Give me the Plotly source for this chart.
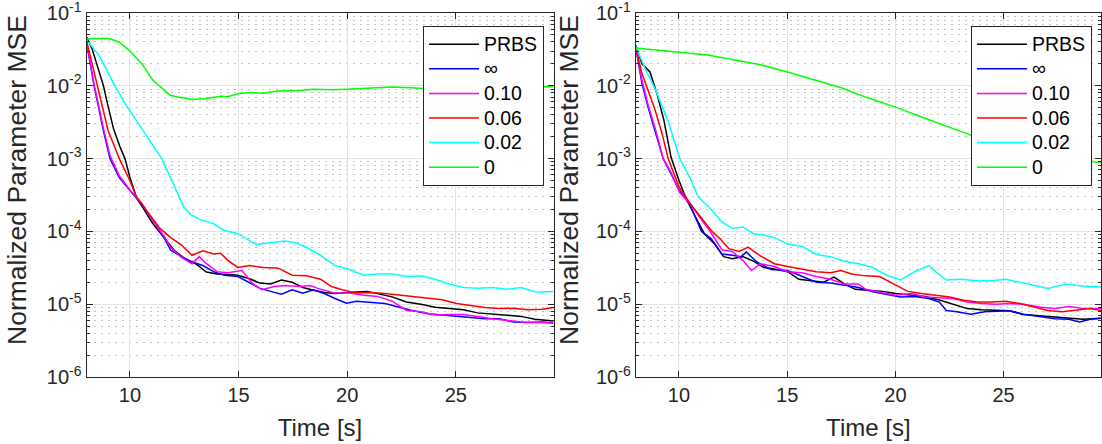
import plotly.graph_objects as go

# ---------------- data ----------------
SERIES = ["PRBS", "∞", "0.10", "0.06", "0.02", "0"]
X_TICKS = [10, 15, 20, 25]
Y_TICKS = [1e-6, 1e-5, 1e-4, 1e-3, 1e-2, 1e-1]
Y_TICK_TEXT = ["10<sup>-6</sup>", "10<sup>-5</sup>", "10<sup>-4</sup>",
               "10<sup>-3</sup>", "10<sup>-2</sup>", "10<sup>-1</sup>"]
X_TITLE = "Time [s]"
Y_TITLE = "Normalized Parameter MSE"

# ----- left panel -----
L_PRBS_T = [8.0, 8.26, 8.47, 8.78, 8.97, 9.24, 9.54, 9.77, 10.0, 10.3, 10.6, 11.05, 11.55, 12.04, 12.53, 13.03,
            13.52, 14.01, 14.5, 14.97, 15.5, 15.99, 16.48, 16.97, 17.47, 17.96, 18.45, 18.95, 19.44, 19.97, 20.43,
            20.92, 21.41, 22.07, 22.73, 23.39, 24.05, 24.7, 25.36, 26.0, 26.68, 27.34, 28.0, 28.65, 29.5]
L_PRBS_V = [4.7e-2, 3.2e-2, 2.0e-2, 1.0e-2, 5.6e-3, 2.6e-3, 1.45e-3, 1.0e-3, 5.5e-4, 2.9e-4, 2.1e-4, 1.28e-4, 8.4e-5,
            5.5e-5, 4.2e-5, 3.6e-5, 2.77e-5, 2.6e-5, 2.55e-5, 2.5e-5, 2.24e-5, 1.95e-5, 1.9e-5, 2.15e-5, 2.0e-5,
            1.7e-5, 1.55e-5, 1.45e-5, 1.4e-5, 1.42e-5, 1.47e-5, 1.5e-5, 1.4e-5, 1.26e-5, 1.07e-5, 1.0e-5, 9.1e-6,
            8.7e-6, 8.4e-6, 7.6e-6, 7.3e-6, 7.1e-6, 6.8e-6, 6.2e-6, 5.9e-6]

L_INF_T = [8.0, 8.35, 8.78, 9.08, 9.51, 10.0, 10.56, 11.05, 11.55, 11.88, 12.37, 12.86, 13.36, 13.85, 14.34, 14.97,
           15.5, 15.99, 16.48, 16.97, 17.47, 17.96, 18.45, 18.95, 19.44, 19.97, 20.43, 21.09, 21.74, 22.4, 23.06,
           23.72, 24.38, 25.03, 25.69, 26.35, 27.0, 27.66, 28.32, 28.98, 29.5]
L_INF_V = [4.0e-2, 1.0e-2, 2.4e-3, 1.0e-3, 5.5e-4, 3.6e-4, 2.3e-4, 1.4e-4, 8.4e-5, 5.5e-5, 4.5e-5, 3.8e-5, 3.4e-5,
           2.8e-5, 2.5e-5, 2.4e-5, 1.95e-5, 1.65e-5, 1.5e-5, 1.37e-5, 1.58e-5, 1.42e-5, 1.58e-5, 1.4e-5, 1.2e-5,
           1.03e-5, 1.1e-5, 1.07e-5, 1.02e-5, 9.1e-6, 8.1e-6, 7.4e-6, 7.1e-6, 6.9e-6, 6.6e-6, 6.3e-6, 6.3e-6,
           5.7e-6, 5.6e-6, 5.7e-6, 5.5e-6]

L_010_T = [8.0, 8.35, 8.78, 9.08, 9.51, 10.0, 10.56, 11.05, 11.55, 11.88, 12.37, 12.86, 13.19, 13.52, 14.01, 14.5,
           15.16, 15.66, 16.07, 16.64, 17.14, 17.8, 18.29, 18.78, 19.44, 20.1, 20.76, 21.41, 22.07, 22.73, 23.39,
           24.05, 24.7, 25.36, 26.0, 26.68, 27.34, 28.0, 28.65, 29.5]
L_010_V = [4.0e-2, 1.05e-2, 2.6e-3, 1.1e-3, 5.8e-4, 3.7e-4, 2.4e-4, 1.4e-4, 8.8e-5, 6.0e-5, 4.4e-5, 3.6e-5, 4.5e-5,
           3.6e-5, 2.8e-5, 2.7e-5, 2.9e-5, 1.9e-5, 1.58e-5, 1.75e-5, 1.8e-5, 1.75e-5, 1.8e-5, 1.6e-5, 1.42e-5,
           1.42e-5, 1.33e-5, 1.28e-5, 1.1e-5, 8.2e-6, 7.9e-6, 7.1e-6, 7.2e-6, 7.2e-6, 6.8e-6, 6.3e-6, 6.0e-6,
           5.7e-6, 5.6e-6, 5.5e-6]

L_006_T = [8.0, 8.26, 8.5, 9.0, 9.51, 9.93, 10.3, 10.89, 11.38, 11.88, 12.37, 12.86, 13.36, 13.85, 14.18, 14.5,
           14.97, 15.5, 16.15, 16.8, 17.47, 18.12, 18.78, 19.28, 19.77, 20.43, 21.09, 21.74, 22.4, 23.06, 23.72,
           24.38, 25.03, 25.69, 26.35, 27.0, 27.66, 28.32, 28.98, 29.5]
L_006_V = [4.2e-2, 2.0e-2, 1.0e-2, 2.4e-3, 1.0e-3, 5.5e-4, 3.0e-4, 1.75e-4, 1.1e-4, 8.2e-5, 6.5e-5, 4.7e-5, 5.4e-5,
           4.9e-5, 5.0e-5, 4.0e-5, 3.2e-5, 3.4e-5, 3.2e-5, 3.15e-5, 2.5e-5, 2.45e-5, 2.2e-5, 1.75e-5, 1.58e-5,
           1.42e-5, 1.45e-5, 1.4e-5, 1.33e-5, 1.28e-5, 1.22e-5, 1.15e-5, 1.02e-5, 9.5e-6, 9.0e-6, 8.7e-6, 8.8e-6,
           8.4e-6, 8.5e-6, 9.0e-6]

L_002_T = [8.0, 8.59, 9.31, 9.8, 10.31, 10.9, 11.46, 12.0, 12.46, 12.8, 13.23, 13.85, 14.34, 14.97, 15.5, 15.82,
           16.48, 17.14, 17.63, 18.1, 18.78, 19.44, 20.1, 20.76, 21.4, 22.07, 22.73, 23.4, 24.05, 24.7, 25.36, 26.0,
           26.68, 27.34, 28.0, 28.65, 28.98, 29.5]
L_002_V = [4.3e-2, 2.6e-2, 1.0e-2, 5.5e-3, 3.3e-3, 1.8e-3, 1.0e-3, 4.5e-4, 2.2e-4, 1.7e-4, 1.45e-4, 1.28e-4, 1.03e-4,
           9.3e-5, 7.6e-5, 6.6e-5, 7.0e-5, 7.4e-5, 7.0e-5, 6.1e-5, 4.7e-5, 3.4e-5, 3.0e-5, 2.5e-5, 2.6e-5, 2.6e-5,
           2.4e-5, 2.45e-5, 2.2e-5, 1.9e-5, 1.7e-5, 1.65e-5, 1.7e-5, 1.6e-5, 1.7e-5, 1.48e-5, 1.47e-5, 1.5e-5]

L_0_T = [8.0, 8.9, 9.1, 9.5, 10.0, 10.56, 11.05, 11.55, 11.85, 12.2, 12.87, 13.5, 14.18, 14.5, 14.97, 15.5, 16.15,
         16.8, 17.8, 18.45, 19.3, 19.97, 21.25, 22.07, 22.9, 23.47, 25.0, 27.0, 29.5]
L_0_V = [4.4e-2, 4.5e-2, 4.4e-2, 4.0e-2, 3.0e-2, 2.0e-2, 1.2e-2, 8.9e-3, 7.4e-3, 7.0e-3, 6.5e-3, 6.7e-3, 7.2e-3,
         7.1e-3, 7.8e-3, 8.1e-3, 7.9e-3, 8.5e-3, 8.6e-3, 9.0e-3, 8.8e-3, 9.0e-3, 9.3e-3, 9.6e-3, 9.4e-3, 9.2e-3,
         9.5e-3, 9.7e-3, 9.8e-3]

# ----- right panel -----
R_PRBS_T = [8.0, 8.29, 8.66, 8.98, 9.3, 9.63, 10.0, 10.36, 10.76, 11.17, 11.65, 12.06, 12.46, 12.95, 13.44, 13.92,
            14.41, 15.02, 15.54, 16.03, 16.68, 17.16, 17.65, 18.14, 18.78, 19.43, 20.0, 20.73, 21.38, 22.03, 22.67,
            23.32, 23.97, 24.62, 25.27, 25.92, 26.73, 27.37, 28.02, 28.67, 29.5]
R_PRBS_V = [3.6e-2, 2.0e-2, 1.55e-2, 7.8e-3, 3.4e-3, 1.05e-3, 5.0e-4, 2.7e-4, 1.58e-4, 9.3e-5, 6.7e-5, 4.5e-5,
            4.2e-5, 4.5e-5, 3.9e-5, 3.2e-5, 3.05e-5, 2.8e-5, 2.2e-5, 2.1e-5, 2.0e-5, 2.35e-5, 1.9e-5, 1.6e-5,
            1.55e-5, 1.5e-5, 1.4e-5, 1.33e-5, 1.28e-5, 1.14e-5, 1.0e-5, 8.7e-6, 8.4e-6, 8.2e-6, 8.1e-6, 7.2e-6,
            6.9e-6, 6.6e-6, 6.3e-6, 6.2e-6, 6.4e-6]

R_INF_T = [8.0, 8.29, 8.57, 8.9, 9.27, 9.63, 10.0, 10.52, 11.04, 11.49, 11.98, 12.46, 12.87, 13.11, 13.6, 14.25,
           15.02, 15.7, 16.35, 17.0, 17.65, 18.3, 18.95, 19.6, 20.24, 20.89, 21.54, 22.03, 22.35, 22.84, 23.48,
           24.13, 24.78, 25.27, 25.92, 26.73, 27.37, 28.02, 28.51, 29.0, 29.5]
R_INF_V = [3.4e-2, 1.07e-2, 5.1e-3, 2.45e-3, 1.0e-3, 6.2e-4, 3.7e-4, 2.3e-4, 1.0e-4, 7.9e-5, 4.9e-5, 4.7e-5, 4.5e-5,
           5.2e-5, 3.8e-5, 3.0e-5, 2.9e-5, 2.4e-5, 2.0e-5, 1.95e-5, 1.8e-5, 1.7e-5, 1.48e-5, 1.37e-5, 1.26e-5,
           1.28e-5, 1.2e-5, 1.07e-5, 8.2e-6, 7.9e-6, 7.3e-6, 7.9e-6, 8.1e-6, 8.1e-6, 7.3e-6, 6.8e-6, 6.3e-6,
           6.2e-6, 5.7e-6, 6.2e-6, 6.4e-6]

R_010_T = [8.0, 8.29, 8.57, 8.9, 9.27, 9.63, 10.04, 10.52, 11.0, 11.33, 11.49, 11.98, 12.46, 12.95, 13.35, 13.76,
           14.41, 15.02, 15.7, 16.35, 17.0, 17.65, 18.3, 18.62, 19.27, 20.0, 20.73, 21.38, 22.03, 22.67, 23.32,
           23.97, 24.62, 25.27, 25.92, 26.73, 27.37, 28.02, 28.67, 29.5]
R_010_V = [3.4e-2, 1.19e-2, 5.5e-3, 2.6e-3, 1.0e-3, 6.5e-4, 3.4e-4, 2.4e-4, 1.5e-4, 1.1e-4, 9.5e-5, 5.6e-5, 5.3e-5,
           4.0e-5, 2.9e-5, 3.6e-5, 3.3e-5, 2.8e-5, 2.7e-5, 2.4e-5, 2.2e-5, 1.9e-5, 1.9e-5, 1.6e-5, 1.48e-5,
           1.33e-5, 1.4e-5, 1.26e-5, 1.23e-5, 1.2e-5, 1.07e-5, 1.02e-5, 1.0e-5, 1.02e-5, 1.0e-5, 9.1e-6, 8.7e-6,
           9.3e-6, 8.7e-6, 8.7e-6]

R_006_T = [8.0, 8.29, 8.57, 8.9, 9.22, 9.5, 10.0, 10.52, 11.0, 11.49, 11.9, 12.3, 12.79, 13.19, 13.76, 14.41,
           15.02, 15.7, 16.35, 17.0, 17.49, 17.97, 18.62, 19.27, 19.92, 20.57, 21.22, 21.86, 22.51, 23.16, 23.8,
           24.46, 25.1, 25.75, 26.4, 27.05, 27.7, 28.35, 29.0, 29.5]
R_006_V = [3.4e-2, 1.47e-2, 8.7e-3, 4.6e-3, 2.2e-3, 1.0e-3, 4.1e-4, 2.4e-4, 1.58e-4, 1.03e-4, 7.9e-5, 5.8e-5,
           5.3e-5, 6.1e-5, 4.6e-5, 3.6e-5, 3.3e-5, 3.0e-5, 2.8e-5, 2.7e-5, 2.9e-5, 2.6e-5, 2.45e-5, 2.4e-5, 1.9e-5,
           1.5e-5, 1.4e-5, 1.33e-5, 1.26e-5, 1.13e-5, 1.07e-5, 1.07e-5, 1.1e-5, 1.02e-5, 9.1e-6, 8.2e-6, 7.9e-6,
           8.2e-6, 8.7e-6, 8.2e-6]

R_002_T = [8.0, 8.41, 8.9, 9.49, 10.04, 10.5, 10.88, 11.49, 11.98, 12.46, 12.95, 13.44, 13.92, 14.41, 15.02, 15.7,
           16.35, 17.0, 17.65, 18.3, 18.95, 19.6, 20.24, 20.89, 21.54, 21.86, 22.35, 23.0, 23.8, 24.46, 25.1, 25.75,
           26.4, 27.05, 27.86, 28.67, 29.5]
R_002_V = [3.5e-2, 1.8e-2, 9.0e-3, 3.3e-3, 1.0e-3, 5.5e-4, 3.0e-4, 2.0e-4, 1.35e-4, 1.1e-4, 1.15e-4, 9.3e-5, 8.9e-5,
           8.2e-5, 6.7e-5, 6.2e-5, 4.8e-5, 4.5e-5, 3.9e-5, 3.6e-5, 3.2e-5, 2.5e-5, 2.15e-5, 2.8e-5, 3.4e-5, 2.8e-5,
           2.15e-5, 2.2e-5, 2.1e-5, 2.1e-5, 2.2e-5, 2.0e-5, 1.8e-5, 1.65e-5, 1.9e-5, 1.78e-5, 1.72e-5]

R_0_T = [8.0, 10.0, 11.33, 12.46, 13.76, 15.02, 16.35, 17.49, 18.62, 20.0, 21.46, 22.51, 23.48, 24.5, 25.5, 26.5,
         27.5, 28.5, 29.5]
R_0_V = [3.3e-2, 2.9e-2, 2.65e-2, 2.3e-2, 1.95e-2, 1.55e-2, 1.19e-2, 9.4e-3, 7.0e-3, 5.1e-3, 3.5e-3, 2.66e-3,
         2.1e-3, 1.75e-3, 1.45e-3, 1.25e-3, 1.08e-3, 9.7e-4, 8.8e-4]

LEFT = [(L_PRBS_T, L_PRBS_V), (L_INF_T, L_INF_V), (L_010_T, L_010_V),
        (L_006_T, L_006_V), (L_002_T, L_002_V), (L_0_T, L_0_V)]
RIGHT = [(R_PRBS_T, R_PRBS_V), (R_INF_T, R_INF_V), (R_010_T, R_010_V),
         (R_006_T, R_006_V), (R_002_T, R_002_V), (R_0_T, R_0_V)]

# ---------------- style ----------------
COLORS = ["#000000", "#0000ff", "#ff00ff", "#ff0000", "#00ffff", "#00ff00"]
FONT = "Liberation Sans, Arial, Helvetica, sans-serif"
AX = "#262626"
W, H = 1102, 444

fig = go.Figure()
for panel, (xa, ya, leg) in zip([LEFT, RIGHT], [("x", "y", "legend"), ("x2", "y2", "legend2")]):
    for name, color, (t, v) in zip(SERIES, COLORS, panel):
        fig.add_trace(go.Scatter(x=t, y=v, mode="lines",
                                 name='<span style="font-size:19.5px">%s</span>' % name,
                                 xaxis=xa, yaxis=ya, legend=leg,
                                 line=dict(color=color, width=1.5)))

minor_vals = [k * 10.0 ** e for e in range(-6, -1) for k in range(2, 10)]

def xaxis(domain, anchor):
    return dict(domain=domain, anchor=anchor, range=[8, 29.5], tickmode="array",
                tickvals=X_TICKS, ticktext=[str(v) for v in X_TICKS],
                ticks="inside", ticklen=6, tickwidth=1, tickcolor=AX,
                showline=True, linecolor=AX, linewidth=1, mirror="ticks",
                showgrid=True, gridcolor="#e3e3e3", gridwidth=1, zeroline=False,
                tickfont=dict(family=FONT, size=20, color=AX),
                title=dict(text=X_TITLE, font=dict(family=FONT, size=24, color=AX), standoff=14))

def yaxis(anchor):
    return dict(domain=[1 - 377 / H, 1 - 13 / H], anchor=anchor, type="log", range=[-6, -1],
                tickmode="array", tickvals=Y_TICKS, ticktext=Y_TICK_TEXT,
                ticklabeloverflow="allow",
                ticks="inside", ticklen=6, tickwidth=1, tickcolor=AX,
                showline=True, linecolor=AX, linewidth=1, mirror="ticks",
                showgrid=True, gridcolor="#e3e3e3", gridwidth=1, zeroline=False,
                minor=dict(tickmode="array", tickvals=minor_vals, ticks="inside", ticklen=3,
                           tickcolor=AX, showgrid=True, gridcolor="#c4c4c4",
                           griddash="2px,5px", gridwidth=1),
                tickfont=dict(family=FONT, size=20, color=AX))

def legend(xr):
    return dict(x=xr / W, xanchor="right", y=1 - 26 / H, yanchor="top",
                bgcolor="white", bordercolor=AX, borderwidth=1,
                font=dict(family=FONT, size=16.6, color="black"),
                itemwidth=50, tracegroupgap=0)

def ytitle(xc):
    return dict(text=Y_TITLE, xref="paper", yref="paper", x=xc / W, y=1 - 180 / H,
                xanchor="center", yanchor="middle", textangle=-90, showarrow=False,
                font=dict(family=FONT, size=26.5, color=AX))

fig.update_layout(
    width=W, height=H, template="none",
    margin=dict(l=0, r=0, t=0, b=0),
    paper_bgcolor="white", plot_bgcolor="white",
    font=dict(family=FONT, color=AX),
    xaxis=xaxis([86.5 / W, 553.5 / W], "y"),
    yaxis=yaxis("x"),
    xaxis2=xaxis([635.7 / W, 1101 / W], "y2"),
    yaxis2=yaxis("x2"),
    legend=legend(544),
    legend2=legend(1092),
    showlegend=True,
    annotations=[ytitle(17), ytitle(569)],
)

fig.write_html("out.html")
